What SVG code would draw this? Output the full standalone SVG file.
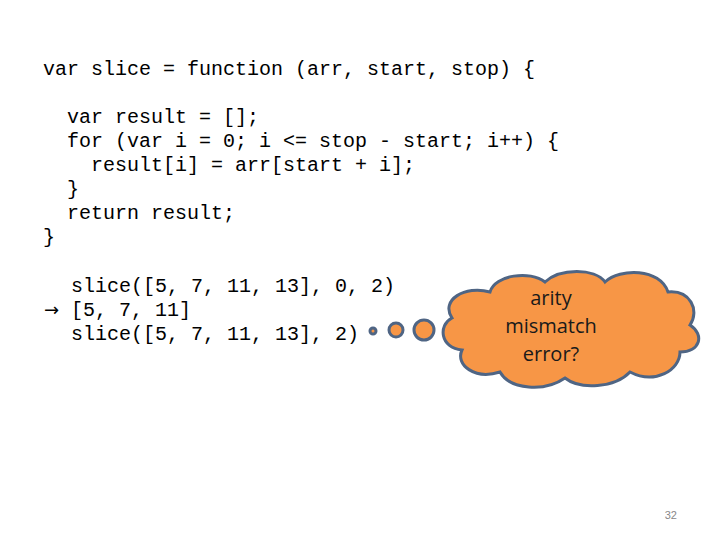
<svg xmlns="http://www.w3.org/2000/svg" width="720" height="540" viewBox="0 0 720 540">
<style>
.code{font-family:"Liberation Mono","Courier New",monospace;font-size:20px;fill:#000}
.cl{fill:#F79646;stroke:#4F6584;stroke-width:3}
.ct{font-family:"Open Sans","Liberation Sans",sans-serif;font-size:20px;fill:#1a1a1a;text-anchor:middle}
</style>
<rect width="720" height="540" fill="#fff"/>
<g id="code">
<text class="code" x="43" y="75">var slice = function (arr, start, stop) {</text>
<text class="code" x="67" y="123">var result = [];</text>
<text class="code" x="67" y="147">for (var i = 0; i &lt;= stop - start; i++) {</text>
<text class="code" x="91" y="171">result[i] = arr[start + i];</text>
<text class="code" x="67" y="195">}</text>
<text class="code" x="67" y="219">return result;</text>
<text class="code" x="43" y="243">}</text>
</g>
<g id="examples">
<text class="code" x="71" y="292">slice([5, 7, 11, 13], 0, 2)</text>
<text class="code" x="44" y="316" style="font-family:'DejaVu Sans',sans-serif;font-size:18px">→</text>
<text class="code" x="71" y="316">[5, 7, 11]</text>
<text class="code" x="71" y="340">slice([5, 7, 11, 13], 2)</text>
</g>
<g id="thought">
<circle class="cl" cx="373" cy="331" r="3" stroke-width="2.5"/>
<circle class="cl" cx="396" cy="330" r="7"/>
<circle class="cl" cx="424" cy="330" r="10"/>
<path class="cl" d="M452,318 C440,300 465,285 490,292 C495,275 530,270 545,282 C560,268 595,268 605,282 C620,268 660,268 668,292 C690,290 700,310 690,325 C705,335 700,352 680,352 C680,370 655,385 630,372 C615,388 580,390 565,378 C545,392 510,390 500,372 C475,380 455,365 462,350 C440,348 438,325 452,318 Z"/>
<text class="ct" x="551" y="305">arity</text>
<text class="ct" x="551" y="333">mismatch</text>
<text class="ct" x="551" y="361">error?</text>
</g>
<text x="677" y="519" style="font-family:'Liberation Sans',sans-serif;font-size:11px;fill:#888;text-anchor:end">32</text>
</svg>
